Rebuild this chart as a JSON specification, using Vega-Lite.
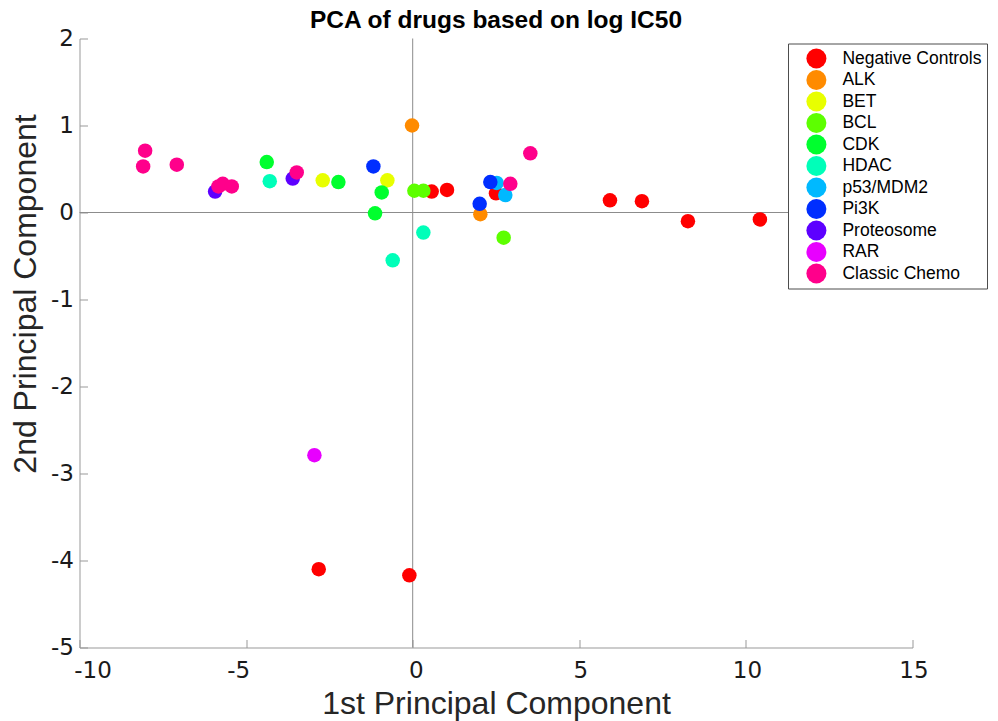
{
  "$schema": "https://vega.github.io/schema/vega-lite/v6.json",
  "width": 833,
  "height": 609,
  "autosize": {"type": "none"},
  "padding": {"left": 79.5, "top": 38.5, "right": 85.5, "bottom": 73.5},
  "background": "white",
  "title": {"text": "PCA of drugs based on log IC50", "font": "Liberation Sans", "fontSize": 24.5, "fontWeight": "bold", "color": "black", "anchor": "middle", "frame": "group", "baseline": "alphabetic", "offset": -25},
  "config": {
    "view": {"stroke": null},
    "axis": {"grid": false, "domainColor": "#999999", "tickColor": "#999999", "tickSize": -8, "labelFont": "DejaVu Sans", "labelFontSize": 23, "labelColor": "#1a1a1a", "titleFont": "Liberation Sans", "titleFontSize": 32, "titleFontWeight": "normal", "titleColor": "#262626", "labelOverlap": false, "labelFlush": false, "labelExpr": "'' + datum.value"}
  },
  "data": {"values": [
    {"pc1": 0.57, "pc2": 0.24, "cls": "Negative Controls"},
    {"pc1": 1.03, "pc2": 0.26, "cls": "Negative Controls"},
    {"pc1": 2.50, "pc2": 0.22, "cls": "Negative Controls"},
    {"pc1": 5.92, "pc2": 0.14, "cls": "Negative Controls"},
    {"pc1": 6.88, "pc2": 0.13, "cls": "Negative Controls"},
    {"pc1": 8.26, "pc2": -0.10, "cls": "Negative Controls"},
    {"pc1": 10.42, "pc2": -0.08, "cls": "Negative Controls"},
    {"pc1": -2.82, "pc2": -4.10, "cls": "Negative Controls"},
    {"pc1": -0.10, "pc2": -4.17, "cls": "Negative Controls"},
    {"pc1": -0.02, "pc2": 1.00, "cls": "ALK"},
    {"pc1": 2.03, "pc2": -0.02, "cls": "ALK"},
    {"pc1": -2.70, "pc2": 0.37, "cls": "BET"},
    {"pc1": -0.76, "pc2": 0.37, "cls": "BET"},
    {"pc1": 0.05, "pc2": 0.25, "cls": "BCL"},
    {"pc1": 0.32, "pc2": 0.25, "cls": "BCL"},
    {"pc1": 2.73, "pc2": -0.29, "cls": "BCL"},
    {"pc1": -4.38, "pc2": 0.58, "cls": "CDK"},
    {"pc1": -2.23, "pc2": 0.35, "cls": "CDK"},
    {"pc1": -0.93, "pc2": 0.23, "cls": "CDK"},
    {"pc1": -1.13, "pc2": -0.01, "cls": "CDK"},
    {"pc1": -4.29, "pc2": 0.36, "cls": "HDAC"},
    {"pc1": -0.60, "pc2": -0.55, "cls": "HDAC"},
    {"pc1": 0.32, "pc2": -0.23, "cls": "HDAC"},
    {"pc1": 2.52, "pc2": 0.34, "cls": "p53/MDM2"},
    {"pc1": 2.78, "pc2": 0.20, "cls": "p53/MDM2"},
    {"pc1": -1.18, "pc2": 0.53, "cls": "Pi3K"},
    {"pc1": 2.01, "pc2": 0.10, "cls": "Pi3K"},
    {"pc1": 2.33, "pc2": 0.35, "cls": "Pi3K"},
    {"pc1": -5.93, "pc2": 0.24, "cls": "Proteosome"},
    {"pc1": -3.60, "pc2": 0.39, "cls": "Proteosome"},
    {"pc1": -2.95, "pc2": -2.79, "cls": "RAR"},
    {"pc1": -8.03, "pc2": 0.71, "cls": "Classic Chemo"},
    {"pc1": -8.09, "pc2": 0.53, "cls": "Classic Chemo"},
    {"pc1": -7.08, "pc2": 0.55, "cls": "Classic Chemo"},
    {"pc1": -5.83, "pc2": 0.30, "cls": "Classic Chemo"},
    {"pc1": -5.70, "pc2": 0.33, "cls": "Classic Chemo"},
    {"pc1": -5.43, "pc2": 0.30, "cls": "Classic Chemo"},
    {"pc1": -3.48, "pc2": 0.46, "cls": "Classic Chemo"},
    {"pc1": 3.53, "pc2": 0.68, "cls": "Classic Chemo"},
    {"pc1": 2.93, "pc2": 0.33, "cls": "Classic Chemo"}
  ]},
  "layer": [
    {
      "data": {"values": [{}]},
      "mark": {"type": "rule", "color": "#8c8c8c", "strokeWidth": 1},
      "encoding": {"x": {"datum": 0, "type": "quantitative"}}
    },
    {
      "data": {"values": [{}]},
      "mark": {"type": "rule", "color": "#8c8c8c", "strokeWidth": 1},
      "encoding": {"y": {"datum": 0, "type": "quantitative"}}
    },
    {
      "mark": {"type": "circle", "size": 210, "opacity": 1},
      "encoding": {
        "x": {"field": "pc1", "type": "quantitative",
          "scale": {"domain": [-10, 15], "nice": false, "zero": false},
          "axis": {"values": [-10, -5, 0, 5, 10, 15], "title": "1st Principal Component", "titleBaseline": "alphabetic", "titleY": 66, "labelBaseline": "alphabetic", "labelPadding": 38,
            "labelOffset": {"condition": [{"test": "datum.value == -10", "value": 13}, {"test": "datum.value == -5", "value": -8}, {"test": "datum.value == 0", "value": 3}], "value": 1}}},
        "y": {"field": "pc2", "type": "quantitative",
          "scale": {"domain": [-5, 2], "nice": false, "zero": false},
          "axis": {"values": [-5, -4, -3, -2, -1, 0, 1, 2], "title": "2nd Principal Component", "titleBaseline": "alphabetic", "titleX": -44, "titleY": 255, "titleAngle": -90, "labelPadding": 14}},
        "color": {"field": "cls", "type": "nominal",
          "scale": {"domain": ["Negative Controls", "ALK", "BET", "BCL", "CDK", "HDAC", "p53/MDM2", "Pi3K", "Proteosome", "RAR", "Classic Chemo"],
            "range": ["#ff0000", "#ff8b00", "#e8ff00", "#5dff00", "#00ff2e", "#00ffb9", "#00b9ff", "#002eff", "#5d00ff", "#e800ff", "#ff008b"]},
          "legend": {"title": null, "orient": "none", "legendX": 708.5, "legendY": 5, "strokeColor": "#4d4d4d", "fillColor": "white", "padding": 5, "symbolType": "circle", "symbolSize": 400, "symbolStrokeWidth": 0, "symbolOpacity": 1, "labelFont": "Liberation Sans", "labelFontSize": 17.5, "labelColor": "black", "rowPadding": 1.5, "symbolOffset": 13.4, "labelOffset": 16}}
      }
    }
  ]
}
